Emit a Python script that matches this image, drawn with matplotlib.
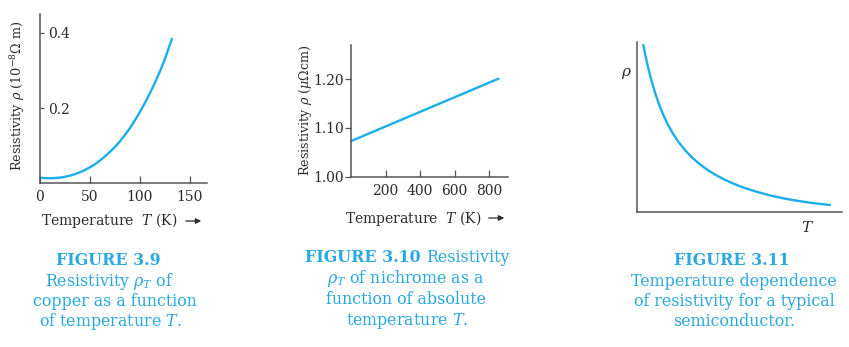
import matplotlib
matplotlib.use("Agg")
import matplotlib.pyplot as plt
from matplotlib.patches import FancyArrowPatch

plt.rcParams["font.family"] = ["DejaVu Serif"]
plt.rcParams["mathtext.fontset"] = "dejavuserif"

# Copper: resistivity (1e-8 ohm m) vs temperature (K)
cu_temp = [0, 5, 10, 15, 20, 25, 30, 35, 40, 45, 50, 55, 60, 65, 70, 75,
           80, 85, 90, 95, 100, 105, 110, 115, 120, 125, 132]
cu_rho = [0.015, 0.014, 0.0135, 0.014, 0.015, 0.017, 0.020, 0.024, 0.029,
          0.035, 0.042, 0.050, 0.060, 0.071, 0.083, 0.096, 0.111, 0.128,
          0.146, 0.167, 0.189, 0.213, 0.239, 0.267, 0.297, 0.330, 0.384]
cu_xticks = [0, 50, 100, 150]
cu_yticks = [0.2, 0.4]

# Nichrome: resistivity (micro-ohm cm) vs absolute temperature (K)
ni_temp = [0, 855]
ni_rho = [1.073, 1.201]
ni_xticks = [200, 400, 600, 800]
ni_yticks = [1.00, 1.10, 1.20]

# Semiconductor: qualitative resistivity vs temperature (arbitrary units)
sc_temp = [6.6, 9, 11, 13.5, 16, 19, 22.6, 26.5, 31, 36, 42, 49, 56, 63,
           70, 78, 86.6, 95, 103.3, 113, 123.3, 133, 143.3, 153, 163.3, 178,
           193.3]
sc_rho = [167.3, 155.6, 146.7, 136.5, 127.4, 117.6, 107.3, 97.6, 88.1, 79.1,
          70.0, 61.4, 54.2, 48.2, 42.9, 37.9, 33.3, 29.4, 26.0, 22.7, 19.6,
          17.0, 14.7, 12.8, 11.1, 9.0, 7.3]

W, H = 849, 347
LINE = "#1aaeea"
CAP = "#2aa8e0"
SPINE = "#555555"
TXT = "#2b2b2b"

fig = plt.figure(figsize=(W / 100, H / 100), dpi=100)


def box(x0, y0, x1, y1):
    """Axes rectangle from pixel corners (top-left origin)."""
    return [x0 / W, (H - y1) / H, (x1 - x0) / W, (y1 - y0) / H]


def fx(x):
    return x / W


def fy(y):
    return (H - y) / H


def style(ax):
    for s in ("top", "right"):
        ax.spines[s].set_visible(False)
    for s in ("left", "bottom"):
        ax.spines[s].set_color(SPINE)
        ax.spines[s].set_linewidth(1.1)
    ax.tick_params(colors=SPINE, labelcolor=TXT, width=0.9)


def temp_label(x, y, arrow_x0, arrow_x1):
    fig.text(fx(x), fy(y), r"Temperature  $T$ (K)", ha="left", va="center",
             fontsize=10, color=TXT)
    fig.add_artist(FancyArrowPatch(
        (fx(arrow_x0), fy(y)), (fx(arrow_x1), fy(y)),
        transform=fig.transFigure, arrowstyle="-|>", mutation_scale=8,
        color=TXT, lw=0.9))


# ---- Panel 1: copper ----
ax1 = fig.add_axes(box(39.5, 14, 207, 183.3))
ax1.plot(cu_temp, cu_rho, color=LINE, lw=1.7, solid_capstyle="round")
ax1.set_xlim(0, 167)
ax1.set_ylim(0, 0.45)
style(ax1)
ax1.set_xticks(cu_xticks)
ax1.set_xticklabels([str(v) for v in cu_xticks], fontsize=10)
ax1.set_yticks(cu_yticks)
ax1.set_yticklabels([f"{v:.1f}" for v in cu_yticks], fontsize=10)
ax1.tick_params(axis="x", direction="in", length=5, pad=5)
ax1.tick_params(axis="y", direction="in", length=3, pad=-6)
for lab in ax1.get_yticklabels():
    lab.set_horizontalalignment("left")
fig.text(fx(18), fy(96), r"Resistivity $\rho$ (10$^{-8}$$\Omega$ m)",
         rotation=90, ha="center", va="center", fontsize=9.2, color=TXT)
temp_label(41, 221, 183, 204)

# ---- Panel 2: nichrome ----
ax2 = fig.add_axes(box(351, 45, 507.7, 176.7))
ax2.plot(ni_temp, ni_rho, color=LINE, lw=1.7, solid_capstyle="round")
ax2.set_xlim(0, 908)
ax2.set_ylim(1.00, 1.27)
style(ax2)
ax2.set_xticks(ni_xticks)
ax2.set_xticklabels([str(v) for v in ni_xticks], fontsize=10)
ax2.set_yticks(ni_yticks)
ax2.set_yticklabels([f"{v:.2f}" for v in ni_yticks], fontsize=10)
ax2.tick_params(axis="x", direction="in", length=5, pad=5)
ax2.tick_params(axis="y", direction="out", length=4, pad=1)
fig.text(fx(305), fy(110), r"Resistivity $\rho$ ($\mu\Omega$cm)",
         rotation=90, ha="center", va="center", fontsize=9.2, color=TXT)
temp_label(345, 218, 486, 507)

# ---- Panel 3: semiconductor ----
ax3 = fig.add_axes(box(636.7, 42.3, 842.3, 212.3))
ax3.plot(sc_temp, sc_rho, color=LINE, lw=1.7, solid_capstyle="round")
ax3.set_xlim(0, 205.6)
ax3.set_ylim(0, 170)
style(ax3)
ax3.set_xticks([])
ax3.set_yticks([])
fig.text(fx(626.7), fy(73.3), r"$\rho$", ha="center", va="center",
         fontsize=11, color=TXT)
fig.text(fx(808), fy(228), r"$T$", ha="center", va="center",
         fontsize=11, color=TXT)

# ---- Captions ----
CFS = 11.4


def cap(x, y, s, bold=False, ha="center"):
    fig.text(fx(x), fy(y), s, ha=ha, va="baseline", fontsize=CFS,
             color=CAP, fontweight="bold" if bold else "normal")


cap(108, 265, "FIGURE 3.9", bold=True)
cap(110, 286, r"Resistivity $\rho_T$ of")
cap(115, 306.5, "copper as a function")
cap(110, 326.5, r"of temperature $T$.")

cap(421, 262.3, "FIGURE 3.10", bold=True, ha="right")
cap(426, 262.3, "Resistivity", ha="left")
cap(406, 283.3, r"$\rho_T$ of nichrome as a")
cap(406, 304.3, "function of absolute")
cap(407, 325, r"temperature $T$.")

cap(732, 265, "FIGURE 3.11", bold=True)
cap(734, 286, "Temperature dependence")
cap(734, 306.5, "of resistivity for a typical")
cap(734, 326.5, "semiconductor.")

fig.savefig("out.png", dpi=100, facecolor="white")
